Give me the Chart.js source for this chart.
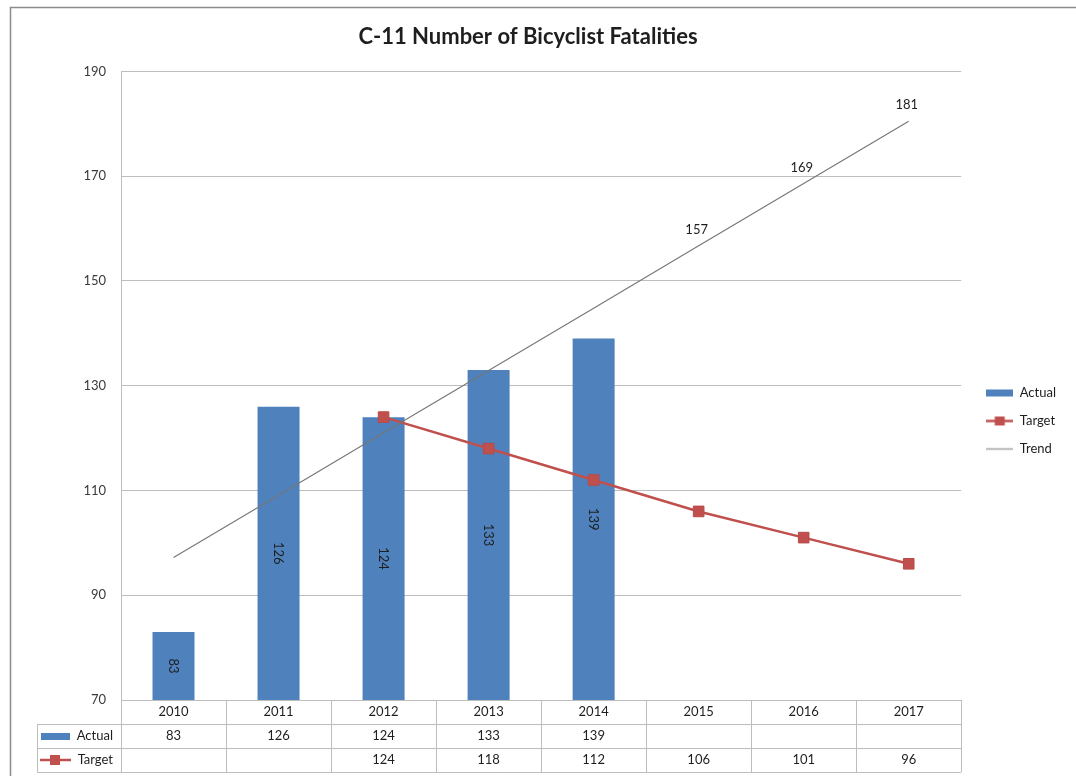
<!DOCTYPE html>
<html><head><meta charset="utf-8">
<script src="https://cdn.jsdelivr.net/npm/chart.js@4.4.1/dist/chart.umd.min.js"></script>
<style>html,body{margin:0;padding:0;background:#fff;}canvas{display:block;}</style>
</head><body>
<canvas id="c" width="1076" height="776"></canvas>
<script>
const categories = ['2010','2011','2012','2013','2014','2015','2016','2017'];
const actualValues = [83, 126, 124, 133, 139, null, null, null];
const targetValues = [null, null, 124, 118, 112, 106, 101, 96];
const trendValues = [97.2, 109.1, 121.0, 132.9, 144.8, 156.7, 168.6, 180.5];
const trendLabels = [null, null, null, null, null, '157', '169', '181'];
const seriesNames = ['Actual', 'Target', 'Trend'];
const yTickMin = 70, yTickMax = 190, yTickStep = 20;
const titleText = 'C-11 Number of Bicyclist Fatalities';

const FONT = 'Lato, "Liberation Sans", sans-serif';
const BLUE = '#4F81BD', RED = '#C0504D', TREND = '#767676', GRID = '#bdbdbd', TEXT = '#1e1e1e';

function keyImage(kind) {
  const c = document.createElement('canvas'); c.width = 27; c.height = 11;
  const g = c.getContext('2d');
  if (kind === 'bar') { g.fillStyle = BLUE; g.fillRect(0, 2, 27, 7); }
  else if (kind === 'target') {
    g.strokeStyle = RED; g.lineWidth = 2.5; g.beginPath(); g.moveTo(0, 5.5); g.lineTo(27, 5.5); g.stroke();
    g.fillStyle = RED; g.fillRect(8.5, 1, 10, 9);
  } else {
    g.strokeStyle = '#a0a0a0'; g.lineWidth = 1.5; g.beginPath(); g.moveTo(0, 5.5); g.lineTo(27, 5.5); g.stroke();
  }
  return c;
}
const keyImgs = [keyImage('bar'), keyImage('target'), keyImage('trend')];

const frame = {
  id: 'frame',
  beforeDraw(chart) {
    const ctx = chart.ctx;
    ctx.save();
    ctx.fillStyle = '#fff'; ctx.fillRect(0, 0, chart.width, chart.height);
    ctx.strokeStyle = '#8c8c8c'; ctx.lineWidth = 1.5;
    ctx.beginPath(); ctx.moveTo(10.5, chart.height); ctx.lineTo(10.5, 7.5); ctx.lineTo(chart.width, 7.5); ctx.stroke();
    ctx.restore();
  }
};

const legendShift = {
  id: 'legendShift',
  afterLayout(chart) {
    const L = chart.legend; if (!L) return;
    const w = L.right - L.left;
    L.left = chart.chartArea.right + 10; L.right = L.left + w;
    L.top += 33; L.bottom += 33;
  }
};

const valueLabels = {
  id: 'valueLabels',
  afterDatasetsDraw(chart) {
    const ctx = chart.ctx, a = chart.chartArea;
    ctx.save();
    ctx.font = '13px ' + FONT; ctx.fillStyle = TEXT;
    ctx.textAlign = 'center'; ctx.textBaseline = 'middle';
    const bars = chart.getDatasetMeta(0);
    bars.data.forEach((el, i) => {
      if (actualValues[i] == null) return;
      const cy = (el.y + Math.min(el.base, a.bottom)) / 2;
      ctx.save(); ctx.translate(el.x, cy); ctx.rotate(Math.PI / 2);
      ctx.fillText(String(actualValues[i]), 0, 0); ctx.restore();
    });
    const tr = chart.getDatasetMeta(2);
    tr.data.forEach((pt, i) => {
      if (!trendLabels[i]) return;
      ctx.fillText(trendLabels[i], pt.x - 2, pt.y - 16);
    });
    ctx.restore();
  }
};

const dataTable = {
  id: 'dataTable',
  afterDraw(chart) {
    const {ctx, chartArea: a, scales: {x}} = chart;
    const rowH = 24, top = a.bottom, leftX = 37.5;
    ctx.save();
    ctx.strokeStyle = GRID; ctx.lineWidth = 1;
    for (let r = 1; r <= 3; r++) {
      const y = Math.round(top + r * rowH) + 0.5;
      ctx.beginPath(); ctx.moveTo(leftX, y); ctx.lineTo(a.right, y); ctx.stroke();
    }
    ctx.beginPath(); ctx.moveTo(leftX, top + rowH); ctx.lineTo(leftX, top + 3 * rowH + 0.5); ctx.stroke();
    ctx.font = '13px ' + FONT; ctx.fillStyle = TEXT; ctx.textBaseline = 'middle';
    const rows = [actualValues, targetValues];
    rows.forEach((vals, r) => {
      const cy = top + rowH * (r + 1.5);
      ctx.textAlign = 'center';
      vals.forEach((v, i) => { if (v != null) ctx.fillText(String(v), x.getPixelForValue(i), cy); });
      ctx.textAlign = 'right';
      ctx.fillText(seriesNames[r], a.left - 8, cy);
    });
    const y1 = top + rowH * 1.5, y2 = top + rowH * 2.5;
    ctx.fillStyle = BLUE; ctx.fillRect(41, y1 - 3, 29, 7);
    ctx.strokeStyle = RED; ctx.lineWidth = 2.5;
    ctx.beginPath(); ctx.moveTo(40, y2); ctx.lineTo(71, y2); ctx.stroke();
    ctx.fillStyle = RED; ctx.fillRect(50, y2 - 5, 10, 10);
    ctx.restore();
  }
};

new Chart(document.getElementById('c'), {
  data: {
    labels: categories,
    datasets: [
      { type: 'bar', label: seriesNames[0], data: actualValues, backgroundColor: BLUE, borderWidth: 0,
        barPercentage: 0.4, categoryPercentage: 1, order: 3 },
      { type: 'line', label: seriesNames[1], data: targetValues, borderColor: RED, borderWidth: 2.5,
        pointStyle: 'rect', pointRadius: 7.5, pointBackgroundColor: RED, pointBorderColor: '#b84a47', pointBorderWidth: 1,
        spanGaps: false, order: 2 },
      { type: 'line', label: seriesNames[2], data: trendValues, borderColor: TREND, borderWidth: 1.1,
        pointRadius: 0, order: 1 }
    ]
  },
  options: {
    responsive: false, animation: false,
    layout: { padding: { left: 0, right: 20, top: 0, bottom: 0 } },
    plugins: {
      title: { display: true, text: titleText, color: TEXT, font: { family: FONT, size: 22, weight: 'bold' },
        padding: { top: 24, bottom: 21 } },
      legend: {
        position: 'right', align: 'center',
        labels: {
          usePointStyle: true, pointStyleWidth: 27, padding: 15, color: TEXT,
          font: { family: FONT, size: 13 },
          generateLabels: () => seriesNames.map((n, i) => ({
            text: n, pointStyle: keyImgs[i], fillStyle: 'transparent', strokeStyle: 'transparent',
            lineWidth: 0, hidden: false, datasetIndex: i, fontColor: TEXT
          }))
        }
      },
      tooltip: { enabled: false }
    },
    scales: {
      x: {
        offset: true,
        grid: { offset: true, drawOnChartArea: false, drawTicks: true, tickLength: 72, color: GRID },
        border: { display: true, color: GRID },
        ticks: { padding: -68, color: TEXT, font: { family: FONT, size: 13 }, autoSkip: false, maxRotation: 0 },
        afterFit: s => { s.height = 76; }
      },
      y: {
        min: yTickMin, max: yTickMax,
        ticks: { stepSize: yTickStep, padding: 15, color: '#3a3a3a', font: { family: FONT, size: 13 } },
        grid: { drawTicks: false, color: GRID },
        border: { display: true, color: GRID },
        afterFit: s => { s.width = 121; }
      }
    }
  },
  plugins: [frame, legendShift, valueLabels, dataTable]
});
</script>
</body></html>
